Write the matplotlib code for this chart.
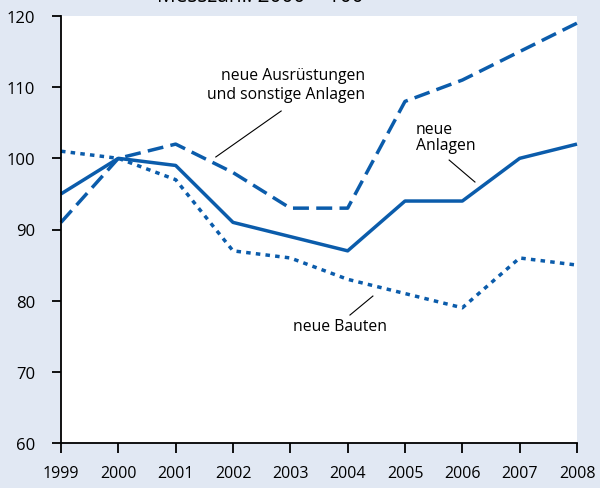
import matplotlib
matplotlib.use("Agg")
import matplotlib.pyplot as plt

years = [1999, 2000, 2001, 2002, 2003, 2004, 2005, 2006, 2007, 2008]
neue_anlagen = [95, 100, 99, 91, 89, 87, 94, 94, 100, 102]
ausruestungen = [91, 100, 102, 98, 93, 93, 108, 111, 115, 119]
bauten = [101, 100, 97, 87, 86, 83, 81, 79, 86, 85]
yticks = [60, 70, 80, 90, 100, 110, 120]

plt.rcParams['font.family'] = ['Open Sans', 'DejaVu Sans']
bg = '#e1e8f3'
blue = '#0b5cab'

fig = plt.figure(figsize=(6, 4.89), dpi=100, facecolor=bg)
ax = fig.add_axes([61/600, 45/489, 516/600, 427/489])
ax.set_facecolor('white')

ax.plot(years, neue_anlagen, color=blue, lw=2.5, solid_capstyle='butt', clip_on=False)
ax.plot(years, ausruestungen, color=blue, lw=2.5, dashes=(4.6, 2.1), dash_capstyle='butt', clip_on=False)
ax.plot(years, bauten, color=blue, lw=2.5, dashes=(1.3, 1.5), dash_capstyle='butt', clip_on=False)

ax.set_xlim(1999, 2008)
ax.set_ylim(60, 120)
ax.set_xticks(years)
ax.set_yticks(yticks)
for s in ['top', 'right']:
    ax.spines[s].set_visible(False)
for s in ['left', 'bottom']:
    ax.spines[s].set_linewidth(1.3)
ax.tick_params(axis='x', direction='out', length=7, width=1.3, pad=9, labelsize=11.5)
ax.tick_params(axis='y', direction='out', length=6.5, width=1.3, pad=12, labelsize=12)

ax.text(2004.30, 112.8, 'neue Ausrüstungen\nund sonstige Anlagen', ha='right', va='top',
        fontsize=11.3, linespacing=1.2)
ax.plot([2002.84, 2001.70], [106.65, 100.19], color='black', lw=0.8)

ax.text(2005.19, 105.3, 'neue\nAnlagen', ha='left', va='top', fontsize=11.3, linespacing=1.0)
ax.plot([2005.77, 2006.22], [99.76, 96.67], color='black', lw=0.8)

ax.text(2003.87, 77.6, 'neue Bauten', ha='center', va='top', fontsize=11.3)
ax.plot([2004.44, 2004.04], [80.65, 77.98], color='black', lw=0.8)

fig.text(260/600, 1 - 1.5/489, 'Messzahl: 2000 = 100', ha='center', va='baseline', fontsize=15)

fig.savefig('out.png', dpi=100, facecolor=bg)
